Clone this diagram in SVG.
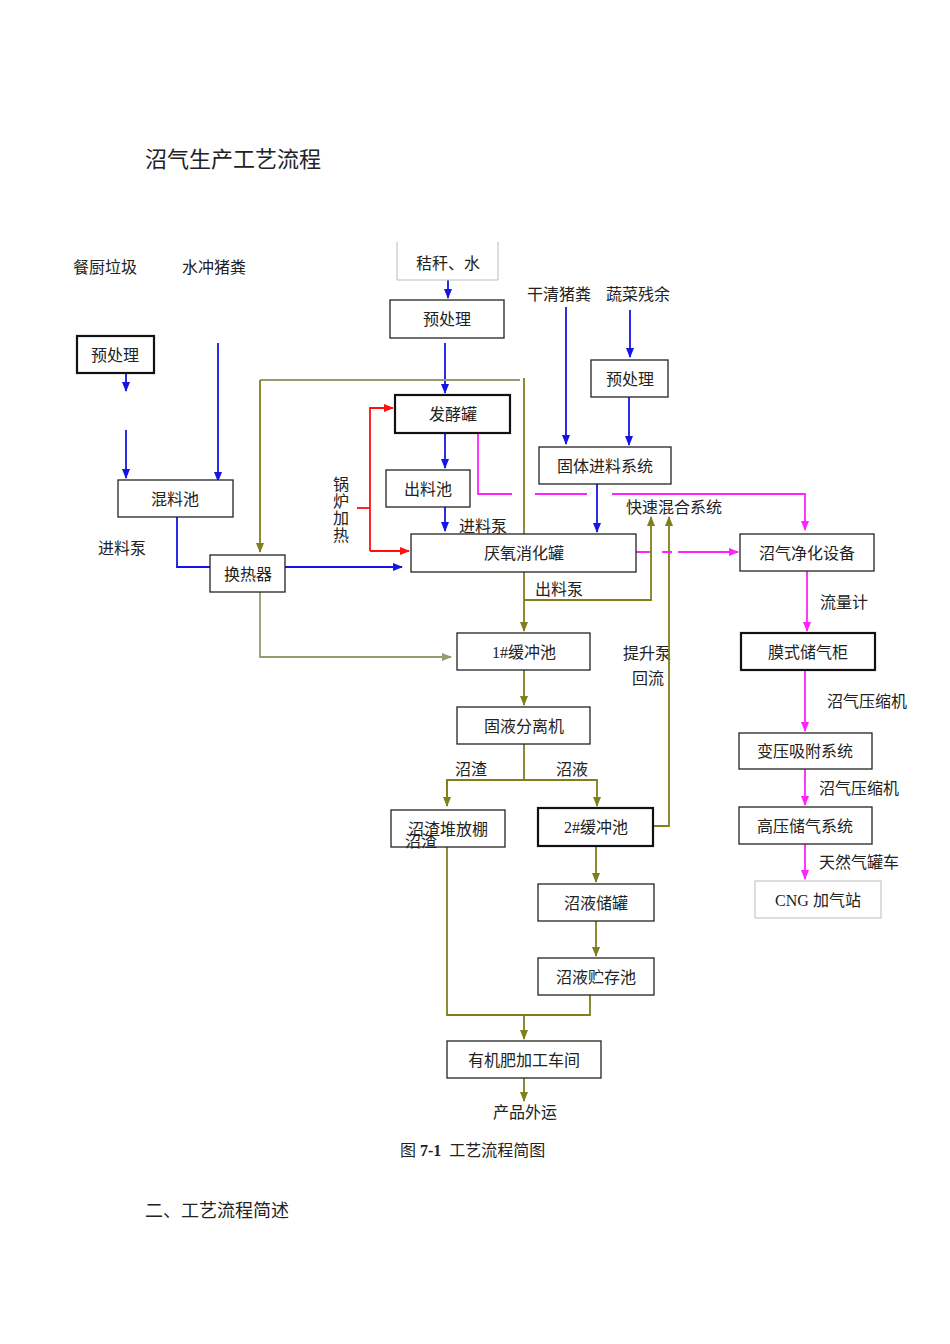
<svg xmlns="http://www.w3.org/2000/svg" width="950" height="1344" viewBox="0 0 950 1344">
<defs>
<marker id="ab" markerWidth="10" markerHeight="10" refX="9" refY="5" orient="auto" markerUnits="userSpaceOnUse"><path d="M0,1 L10,5 L0,9 Z" fill="#1414e6"/></marker>
<marker id="ao" markerWidth="10" markerHeight="10" refX="9" refY="5" orient="auto" markerUnits="userSpaceOnUse"><path d="M0,1 L10,5 L0,9 Z" fill="#7f7f1e"/></marker>
<marker id="ag" markerWidth="10" markerHeight="10" refX="9" refY="5" orient="auto" markerUnits="userSpaceOnUse"><path d="M0,1 L10,5 L0,9 Z" fill="#9a9a70"/></marker>
<marker id="am" markerWidth="10" markerHeight="10" refX="9" refY="5" orient="auto" markerUnits="userSpaceOnUse"><path d="M0,1 L10,5 L0,9 Z" fill="#ff22ff"/></marker>
<marker id="ar" markerWidth="10" markerHeight="10" refX="9" refY="5" orient="auto" markerUnits="userSpaceOnUse"><path d="M0,1 L10,5 L0,9 Z" fill="#ff1010"/></marker>
</defs>
<style>
text{font-family:"Liberation Serif","Noto Sans CJK SC",serif;font-size:16px;fill:#222}
.c{text-anchor:middle}
.b{fill:#fff;stroke:#222;stroke-width:1.3}
.bt{fill:#fff;stroke:#111;stroke-width:2.2}
.bg{fill:#fff;stroke:#bbb;stroke-width:1}
.l{fill:none;stroke-width:1.8}
.bl{stroke:#1414e6}.ol{stroke:#7f7f1e}.gr{stroke:#9a9a70}.mg{stroke:#ff22ff}.rd{stroke:#ff1010}
</style>
<rect width="950" height="1344" fill="#fff"/>
<text x="145" y="167" style="font-size:22px">沼气生产工艺流程</text>
<text x="73" y="273">餐厨垃圾</text>
<text x="182" y="273">水冲猪粪</text>
<text x="527" y="300">干清猪粪</text>
<text x="606" y="300">蔬菜残余</text>
<text x="98" y="554">进料泵</text>
<text x="459" y="532">进料泵</text>
<text x="535" y="595">出料泵</text>
<text x="626" y="513">快速混合系统</text>
<text x="820" y="608">流量计</text>
<text x="623" y="659">提升泵</text>
<text x="632" y="684">回流</text>
<text x="827" y="707">沼气压缩机</text>
<text x="819" y="794">沼气压缩机</text>
<text x="819" y="868">天然气罐车</text>
<text x="455" y="775">沼渣</text>
<text x="556" y="775">沼液</text>
<text x="333" y="490">锅</text><text x="333" y="507">炉</text><text x="333" y="524">加</text><text x="333" y="541">热</text>
<text x="525" y="1118" class="c">产品外运</text>
<text x="400" y="1156" xml:space="preserve">图 <tspan font-weight="bold">7-1</tspan>  工艺流程简图</text>
<text x="145" y="1217" style="font-size:18px">二、工艺流程简述</text>
<g id="connectors">
<path class="l bl" d="M448,280V298" marker-end="url(#ab)"/>
<path class="l bl" d="M445,343V393" marker-end="url(#ab)"/>
<path class="l bl" d="M445,433V468" marker-end="url(#ab)"/>
<path class="l bl" d="M445,507V531" marker-end="url(#ab)"/>
<path class="l bl" d="M126,373V391" marker-end="url(#ab)"/>
<path class="l bl" d="M126,430V478" marker-end="url(#ab)"/>
<path class="l bl" d="M218,343V481" marker-end="url(#ab)"/>
<path class="l bl" d="M177,517V567H210"/>
<path class="l bl" d="M285,567H402" marker-end="url(#ab)"/>
<path class="l bl" d="M566,307V444" marker-end="url(#ab)"/>
<path class="l bl" d="M630,310V357" marker-end="url(#ab)"/>
<path class="l bl" d="M629,397V445" marker-end="url(#ab)"/>
<path class="l bl" d="M597,484V532" marker-end="url(#ab)"/>
<path class="l gr" d="M520,380H260"/>
<path class="l ol" d="M260,380V552" marker-end="url(#ao)"/>
<path class="l ol" d="M524,378V534"/>
<path class="l ol" d="M524,572V631" marker-end="url(#ao)"/>
<path class="l ol" d="M524,600H651V517" marker-end="url(#ao)"/>
<path class="l ol" d="M653,826H669V517" marker-end="url(#ao)"/>
<path class="l gr" d="M260,592V657H451" marker-end="url(#ag)"/>
<path class="l ol" d="M524,670V705" marker-end="url(#ao)"/>
<path class="l ol" d="M524,744V780"/>
<path class="l ol" d="M447,806V780H597V806" marker-end="url(#ao)"/>
<path class="l ol" d="M447,780V806" marker-end="url(#ao)"/>
<path class="l ol" d="M596,846V882" marker-end="url(#ao)"/>
<path class="l ol" d="M596,921V956" marker-end="url(#ao)"/>
<path class="l ol" d="M447,847V1015H590V995"/>
<path class="l ol" d="M524,1015V1039" marker-end="url(#ao)"/>
<path class="l ol" d="M524,1078V1101" marker-end="url(#ao)"/>
<path class="l rd" d="M357,508H370"/>
<path class="l rd" d="M370,551V408H393" marker-end="url(#ar)"/>
<path class="l rd" d="M370,551H409" marker-end="url(#ar)"/>
<path class="l mg" d="M478,433V494H512M535,494H587M612,494H805V530" marker-end="url(#am)"/>
<path class="l mg" d="M636,552H650M662,552H672M678,552H738" marker-end="url(#am)"/>
<path class="l mg" d="M807,571V631" marker-end="url(#am)"/>
<path class="l mg" d="M805,670V731" marker-end="url(#am)"/>
<path class="l mg" d="M805,769V805" marker-end="url(#am)"/>
<path class="l mg" d="M805,844V879" marker-end="url(#am)"/>
</g>
<g id="n1"><path d="M397,242V280H498V242" fill="none" stroke="#bbb"/><text x="448" y="269" class="c">秸秆、水</text></g>
<g id="n2"><rect class="b" x="390" y="300" width="114" height="38"/><text x="447" y="325" class="c">预处理</text></g>
<g id="n3"><rect class="bt" x="395" y="395" width="115" height="38"/><text x="453" y="420" class="c">发酵罐</text></g>
<g id="n4"><rect class="b" x="386" y="470" width="84" height="37"/><text x="428" y="495" class="c">出料池</text></g>
<g id="n5"><rect class="b" x="411" y="534" width="225" height="38"/><text x="524" y="559" class="c">厌氧消化罐</text></g>
<g id="n6"><rect class="bt" x="77" y="336" width="77" height="37"/><text x="115" y="361" class="c">预处理</text></g>
<g id="n7"><rect class="b" x="118" y="480" width="115" height="37"/><text x="175" y="505" class="c">混料池</text></g>
<g id="n8"><rect class="b" x="210" y="555" width="75" height="37"/><text x="248" y="580" class="c">换热器</text></g>
<g id="n9"><rect class="b" x="591" y="360" width="77" height="37"/><text x="630" y="385" class="c">预处理</text></g>
<g id="n10"><rect class="b" x="539" y="447" width="132" height="37"/><text x="605" y="472" class="c">固体进料系统</text></g>
<g id="n11"><rect class="b" x="740" y="534" width="134" height="37"/><text x="807" y="559" class="c">沼气净化设备</text></g>
<g id="n12"><rect class="bt" x="741" y="633" width="134" height="37"/><text x="808" y="658" class="c">膜式储气柜</text></g>
<g id="n13"><rect class="b" x="739" y="733" width="133" height="36"/><text x="805" y="757" class="c">变压吸附系统</text></g>
<g id="n14"><rect class="b" x="739" y="807" width="133" height="37"/><text x="805" y="832" class="c">高压储气系统</text></g>
<g id="n15"><rect class="bg" x="755" y="881" width="126" height="37"/><text x="818" y="906" class="c">CNG 加气站</text></g>
<g id="n16"><rect class="b" x="457" y="633" width="133" height="37"/><text x="524" y="658" class="c">1#缓冲池</text></g>
<g id="n17"><rect class="b" x="457" y="707" width="133" height="37"/><text x="524" y="732" class="c">固液分离机</text></g>
<g id="n18"><rect class="b" x="391" y="810" width="114" height="37"/><text x="448" y="835" class="c">沼渣堆放棚</text><text x="405" y="847">沼渣</text></g>
<g id="n19"><rect class="bt" x="538" y="808" width="115" height="38"/><text x="596" y="833" class="c">2#缓冲池</text></g>
<g id="n20"><rect class="b" x="538" y="884" width="116" height="37"/><text x="596" y="909" class="c">沼液储罐</text></g>
<g id="n21"><rect class="b" x="538" y="958" width="116" height="37"/><text x="596" y="983" class="c">沼液贮存池</text></g>
<g id="n22"><rect class="b" x="447" y="1041" width="154" height="37"/><text x="524" y="1066" class="c">有机肥加工车间</text></g>
</svg>
